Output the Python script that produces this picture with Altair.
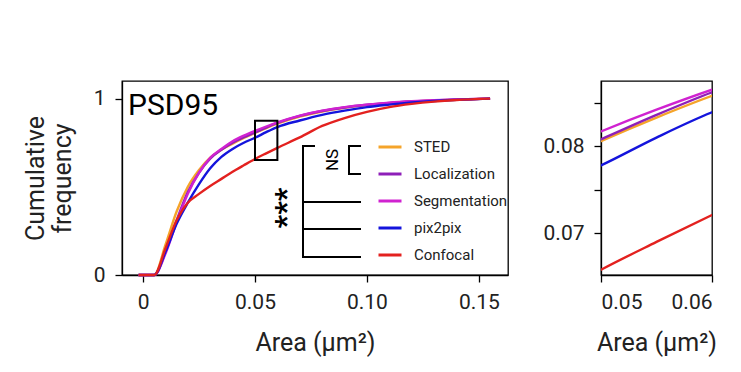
import altair as alt
import pandas as pd

series = ["STED", "Localization", "Segmentation", "pix2pix", "Confocal"]
colors = ["#F5A42A", "#8E1FB8", "#D022D0", "#1414DC", "#E3211F"]

area = [-0.002, 0.005, 0.01, 0.015, 0.02, 0.025, 0.03, 0.035, 0.04, 0.045, 0.05,
        0.055, 0.06, 0.07, 0.08, 0.09, 0.10, 0.11, 0.12, 0.13, 0.14, 0.155]
sted = [0, 0, 0.17, 0.36, 0.50, 0.595, 0.665, 0.71, 0.745, 0.777, 0.806,
        0.833, 0.858, 0.898, 0.927, 0.948, 0.963, 0.974, 0.983, 0.989, 0.994, 1.0]
localization = [0, 0, 0.13, 0.31, 0.47, 0.58, 0.66, 0.71, 0.75, 0.781, 0.808,
                0.836, 0.862, 0.902, 0.930, 0.950, 0.965, 0.976, 0.984, 0.990, 0.995, 1.0]
segmentation = [0, 0, 0.12, 0.30, 0.46, 0.58, 0.665, 0.715, 0.758, 0.79, 0.817,
                0.842, 0.865, 0.904, 0.932, 0.952, 0.966, 0.977, 0.985, 0.991, 0.995, 1.0]
pix2pix = [0, 0, 0.13, 0.29, 0.41, 0.515, 0.605, 0.67, 0.715, 0.75, 0.778,
           0.81, 0.839, 0.876, 0.908, 0.932, 0.952, 0.966, 0.978, 0.987, 0.993, 1.0]
confocal = [0, 0, 0.15, 0.31, 0.41, 0.46, 0.505, 0.545, 0.585, 0.622, 0.658,
            0.69, 0.721, 0.78, 0.845, 0.89, 0.925, 0.952, 0.970, 0.983, 0.992, 1.0]

zoom_x = [0.05, 0.06]
zoom_y = [0.652, 0.875]

values = [sted, localization, segmentation, pix2pix, confocal]
rows = []
for s, vals in zip(series, values):
    for i, (a, v) in enumerate(zip(area, vals)):
        rows.append({"series": s, "area": a, "cf": v, "order": i})
df = pd.DataFrame(rows)

FONT = "Roboto"
color_scale = alt.Scale(domain=series, range=colors)

legend = alt.Legend(orient="none", legendX=255, legendY=53, title=None,
                    symbolType="stroke", symbolSize=529, symbolStrokeWidth=3,
                    labelFontSize=15, labelOffset=11, rowPadding=6, padding=0,
                    labelFont=FONT, labelColor="#222")

x_left = alt.X("area:Q", scale=alt.Scale(domain=[-0.0094, 0.163], nice=False, zero=False),
               axis=alt.Axis(values=[0, 0.05, 0.1, 0.15],
                             labelExpr="datum.value == 0 ? '0' : format(datum.value, '.2f')",
                             title="Area (μm²)"))
y_left = alt.Y("cf:Q", scale=alt.Scale(domain=[0, 1.1], nice=False),
               axis=alt.Axis(values=[0, 1], format="d", title=["Cumulative", "frequency"]))

lines_left = alt.Chart(df).mark_line(strokeWidth=2.4, interpolate="monotone").encode(
    x=x_left, y=y_left,
    color=alt.Color("series:N", scale=color_scale, sort=series, legend=legend),
    order="order:Q",
    detail="series:N",
)

box_df = pd.DataFrame({"x": [zoom_x[0]], "x2": [zoom_x[1]], "y": [zoom_y[0]], "y2": [zoom_y[1]]})
box = alt.Chart(box_df).mark_rect(fill=None, stroke="black", strokeWidth=2).encode(
    x="x:Q", x2="x2:Q", y="y:Q", y2="y2:Q")

one = pd.DataFrame({"a": [0]})

def rule(x1, x2, y1, y2):
    return alt.Chart(one).mark_rule(color="black", strokeWidth=2).encode(
        x=alt.value(x1), x2=alt.value(x2), y=alt.value(y1), y2=alt.value(y2))

rules = [
    rule(181, 181, 65, 176),
    rule(180, 193, 65, 65),
    rule(180, 239, 121, 121),
    rule(180, 239, 148, 148),
    rule(180, 239, 176, 176),
    rule(227, 227, 65, 93),
    rule(226, 239, 65, 65),
    rule(226, 239, 93, 93),
]

ns_text = alt.Chart(one).mark_text(text="NS", angle=270, fontSize=17, font=FONT,
                                   align="center", baseline="middle", color="black").encode(
    x=alt.value(211), y=alt.value(79))
star_text = alt.Chart(one).mark_text(text="***", angle=270, fontSize=30, font=FONT,
                                     fontWeight="bold", align="center", baseline="middle",
                                     color="black").encode(
    x=alt.value(165), y=alt.value(127))
title_text = alt.Chart(one).mark_text(text="PSD95", fontSize=30, font=FONT, align="left",
                                      baseline="alphabetic", color="black").encode(
    x=alt.value(6), y=alt.value(34))

left = alt.layer(lines_left, box, *rules, ns_text, star_text, title_text).properties(
    width=386, height=194)

lines_right = alt.Chart(df).mark_line(strokeWidth=2.4, interpolate="monotone", clip=True).encode(
    x=alt.X("area:Q", scale=alt.Scale(domain=zoom_x, nice=False, zero=False),
            axis=alt.Axis(values=zoom_x, format=".2f", title="Area (μm²)")),
    y=alt.Y("cf:Q", scale=alt.Scale(domain=zoom_y, nice=False, zero=False),
            axis=alt.Axis(values=[0.7, 0.75, 0.8, 0.85], title=None,
                          labelExpr="datum.value == 0.8 ? '0.08' : datum.value == 0.7 ? '0.07' : ''")),
    color=alt.Color("series:N", scale=color_scale, sort=series, legend=None),
    order="order:Q",
    detail="series:N",
).properties(width=111, height=194)

chart = alt.hconcat(left, lines_right, spacing=33).resolve_legend(color="independent").configure_view(
    stroke="black", strokeWidth=1.3
).configure_axis(
    grid=False, domainColor="black", domainWidth=1.3, tickColor="black", tickWidth=1.3,
    tickSize=7, labelFont=FONT, labelFontSize=21, labelColor="#222", labelPadding=9,
    titleFont=FONT, titleFontSize=25, titleFontWeight="normal", titleColor="#222",
    titlePadding=18
).configure_axisY(titlePadding=18, labelPadding=10).properties(
    padding={"left": 14, "top": 72, "right": 5, "bottom": 5}
)

chart.save("out.html", embed_options={"renderer": "svg", "actions": False})
